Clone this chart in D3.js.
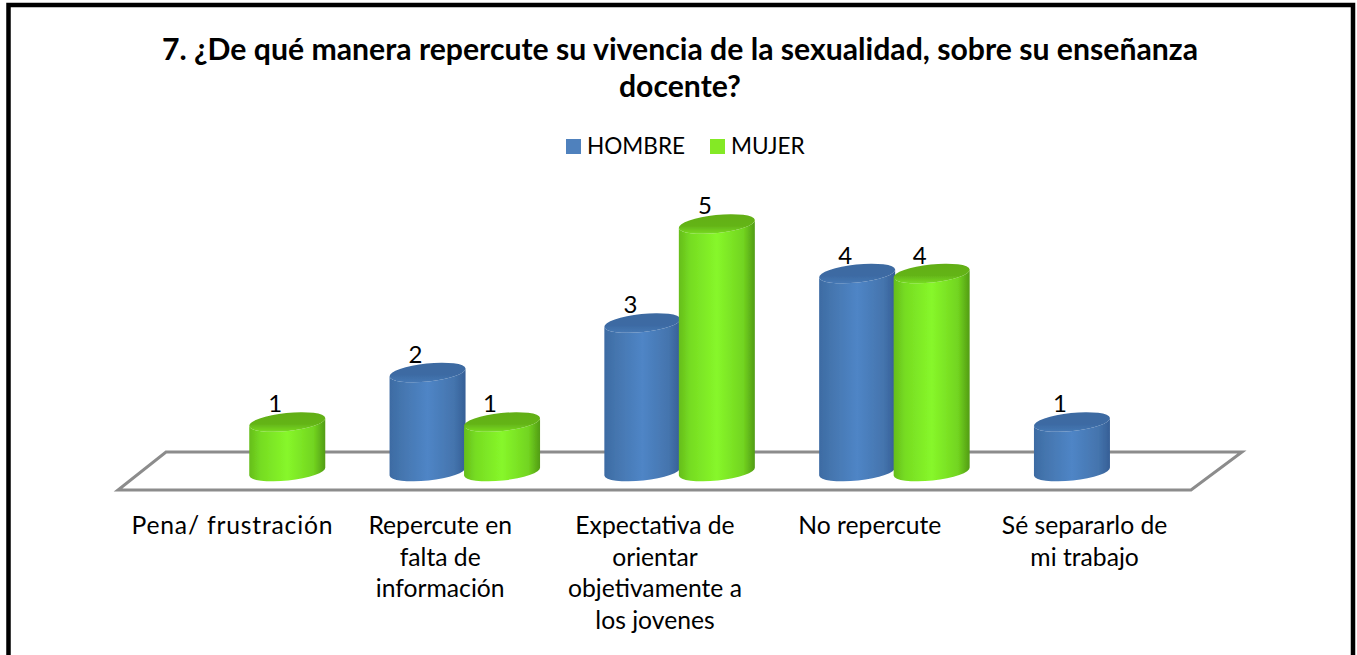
<!DOCTYPE html>
<html>
<head>
  <meta charset="utf-8">
  <script src="https://cdn.jsdelivr.net/npm/d3@7/dist/d3.min.js"></script>
  <style>
  html, body { margin: 0; padding: 0; background: #fff; }
  svg { display: block; }
  text { font-family: Lato, "Open Sans", sans-serif; fill: #000; }
  .title { font-size: 30.2px; font-weight: 700; }
  .legend { font-size: 22.6px; }
  .cat { font-size: 24.7px; }
  .val { font-size: 24px; }
  </style>
</head>
<body>
<svg width="1357" height="655"></svg>
<script>
var categories = ["Pena/ frustración", "Repercute en falta de información", "Expectativa de orientar objetivamente a los jovenes", "No repercute", "Sé separarlo de mi trabajo"];
var catLines = [["Pena/ frustración"], ["Repercute en", "falta de", "información"], ["Expectativa de", "orientar", "objetivamente a", "los jovenes"], ["No repercute"], ["Sé separarlo de", "mi trabajo"]];
var seriesNames = ["HOMBRE", "MUJER"];
var hombre = [0, 2, 3, 4, 1];
var mujer = [1, 1, 5, 4, 0];
var titleLines = ["7. ¿De qué manera repercute su vivencia de la sexualidad, sobre su enseñanza", "docente?"];

var svg = d3.select("svg");

// frame, open at the bottom
svg.append("path").attr("d", "M8.5,655V5H1353V655")
  .attr("fill", "none").attr("stroke", "#000").attr("stroke-width", 4.5);

var defs = svg.append("defs");
function grad(id, stops, vertical) {
  var g = defs.append("linearGradient").attr("id", id);
  if (vertical) g.attr("x2", 0).attr("y2", 1);
  stops.forEach(function (s) {
    g.append("stop").attr("offset", s[0]).attr("stop-color", s[1]);
  });
}
grad("blueBody", [[0, "#3d6ba3"], [0.15, "#4475ae"], [0.5, "#4f85c6"], [0.85, "#4474ad"], [1, "#365f96"]]);
grad("blueTop", [[0, "#3d6aa1"], [0.6, "#3c6aa3"], [1, "#4678b4"]], true);
grad("greenBody", [[0, "#66bd1c"], [0.15, "#76dc22"], [0.5, "#87f72a"], [0.85, "#72d420"], [1, "#529c14"]]);
grad("greenTop", [[0, "#62ae16"], [0.6, "#64b418"], [1, "#78dc22"]], true);
defs.append("filter").attr("id", "soft").append("feGaussianBlur").attr("stdDeviation", 0.7);

var x0 = d3.scaleBand().domain(d3.range(categories.length)).range([142, 1216]);
var x1 = d3.scaleBand().domain([0, 1]).range([33.5, 182.5]);
var y = d3.scaleLinear().domain([0, 5]).range([471.5, 224]);

// floor
svg.append("path")
  .attr("d", d3.line()([[166, 452], [1242, 452], [1191, 490], [118, 490]]) + "Z")
  .attr("fill", "none").attr("stroke", "#8c8c8c").attr("stroke-width", 3);

// title
svg.selectAll(".title").data(titleLines).enter().append("text")
  .attr("class", "title")
  .attr("x", 680)
  .attr("y", function (d, i) { return 60 + i * 37; })
  .attr("text-anchor", "middle")
  .text(function (d) { return d; });

// legend
var legendX = [566, 710];
var legendFill = ["#4f81bd", "#84e925"];
seriesNames.forEach(function (name, i) {
  svg.append("rect").attr("x", legendX[i]).attr("y", 139).attr("width", 15).attr("height", 15).attr("fill", legendFill[i]);
  svg.append("text").attr("class", "legend").attr("x", legendX[i] + 21).attr("y", 154).text(name);
});

// cylinders
var rx = 38, ry = 9, tilt = -6, dy = 4;
function body(cx, top, bottom) {
  return "M" + (cx - rx) + "," + (top + dy) +
    "A" + rx + "," + ry + " " + tilt + " 0 0 " + (cx + rx) + "," + (top - dy) +
    "L" + (cx + rx) + "," + (bottom - dy) +
    "A" + rx + "," + ry + " " + tilt + " 0 1 " + (cx - rx) + "," + (bottom + dy) + "Z";
}
function cap(cx, top) {
  return "M" + (cx - rx) + "," + (top + dy) +
    "A" + rx + "," + ry + " " + tilt + " 0 1 " + (cx + rx) + "," + (top - dy) +
    "A" + rx + "," + ry + " " + tilt + " 0 1 " + (cx - rx) + "," + (top + dy) + "Z";
}
var marks = svg.append("g").attr("filter", "url(#soft)");
var labels = svg.append("g");
[[hombre, 0, "blue"], [mujer, 1, "green"]].forEach(function (s) {
  s[0].forEach(function (v, i) {
    if (!v) return;
    var cx = x0(i) + x1(s[1]) + x1.bandwidth() / 2;
    marks.append("path").attr("d", body(cx, y(v), y(0))).attr("fill", "url(#" + s[2] + "Body)");
    marks.append("path").attr("d", cap(cx, y(v))).attr("fill", "url(#" + s[2] + "Top)");
    labels.append("text").attr("class", "val")
      .attr("x", cx - 12).attr("y", y(v) - 10)
      .attr("text-anchor", "middle").text(v);
  });
});

// category labels, the first one sits wider in the original
catLines.forEach(function (lines, i) {
  svg.append("text").attr("class", "cat")
    .attr("text-anchor", "middle")
    .style("letter-spacing", i === 0 ? "0.8px" : null)
    .selectAll("tspan").data(lines).enter().append("tspan")
    .attr("x", x0(i) + x0.bandwidth() / 2 - (i === 0 ? 17 : 24))
    .attr("y", function (d, j) { return 534 + j * 31.5; })
    .text(function (d) { return d; });
});
</script>
</body>
</html>
